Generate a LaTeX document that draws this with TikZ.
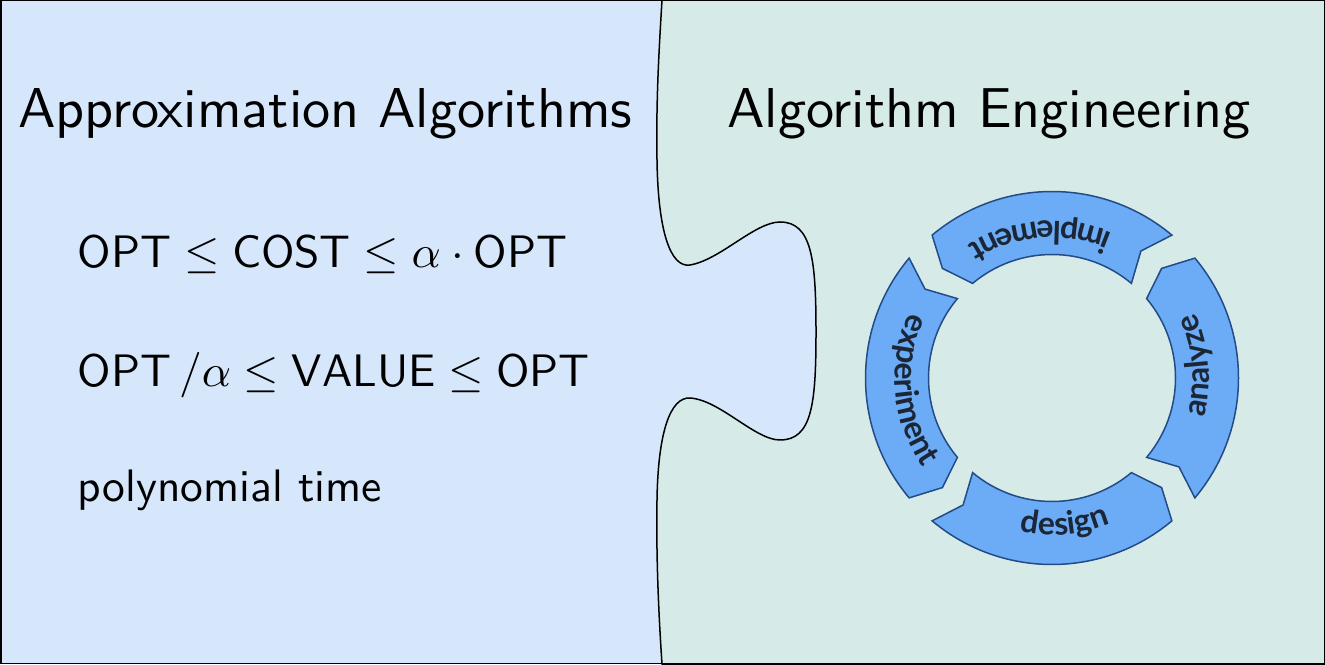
\documentclass[tikz,border=0pt]{standalone}
\usepackage{fontspec}
\newfontfamily\latofont{Lato}
\usetikzlibrary{calc,decorations.text}
\definecolor{leftbg}{RGB}{214,230,251}
\definecolor{rightbg}{RGB}{214,235,232}
\definecolor{arrfill}{RGB}{108,171,246}
\definecolor{arrdraw}{RGB}{35,75,133}
\definecolor{arrtext}{RGB}{27,38,54}
\tikzset{
  border/.style={draw=black, line width=1.5pt},
  arrowseg/.style={fill=arrfill, draw=arrdraw, line width=1.5pt, line join=miter},
  title/.style={anchor=base west, inner sep=0pt, scale=5.62, font=\sffamily},
  formula/.style={anchor=base west, inner sep=0pt, scale=4.55, font=\sffamily},
  cyctext/.style={decorate, decoration={text along path, text align=center, text={#1}}}
}
\newcommand{\cyc}[1]{|\latofont\bfseries\fontsize{32}{32}\selectfont\color{arrtext}|#1}
\begin{document}
\begin{tikzpicture}[x=1pt,y=1pt]
\useasboundingbox (0,0) rectangle (1325,664);
% backgrounds
\fill[leftbg] (0,0) rectangle (1325,664);
\path[fill=rightbg, border] (662,664)
  .. controls (659,614) and (656,564) .. (657,504)
  .. controls (658,434) and (670,396) .. (690,399)
  .. controls (720,404) and (755,442) .. (780,442)
  .. controls (812,442) and (816,404) .. (816,332)
  .. controls (816,260) and (812,224) .. (780,224)
  .. controls (755,224) and (720,264) .. (690,266)
  .. controls (670,267) and (658,231) .. (657,164)
  .. controls (656,104) and (659,44) .. (662,0)
  -- (1325,0) -- (1325,664) -- cycle;
\draw[border] (0.75,0.75) rectangle (1324.25,663.25);
% texts
\node[title] (t1) at (17,536) {Approximation Algorithms};
\node[title] (t2) at (726,536) {Algorithm Engineering};
\node[formula] (f1) at (77,396) {$\mathsf{OPT}\leq\mathsf{COST}\leq\alpha\cdot\mathsf{OPT}$};
\node[formula] (f2) at (77,277) {$\mathsf{OPT}\,/\alpha\leq\mathsf{VALUE}\leq\mathsf{OPT}$};
\node[formula] (f3) at (77,162) {polynomial time};
% cycle
\coordinate (C) at (1052,286);
\foreach \a in {-130,-40,50,140}{
  \pgfmathsetmacro\b{\a+80}
  \draw[arrowseg] ($(C)+(\a:186.5)$) arc[start angle=\a, end angle=\b, radius=186.5]
    -- ($(C)+(\b+5:155)$) -- ($(C)+(\b:123.5)$)
    arc[start angle=\b, end angle=\a, radius=123.5]
    -- ($(C)+(\a+5:155)$) -- cycle;
}
\path[cyctext={\cyc{design}}] ($(C)+(-125:157)$) arc[start angle=-125, end angle=-45, radius=157];
\path[cyctext={\cyc{analyze}}] ($(C)+(-35:157)$) arc[start angle=-35, end angle=45, radius=157];
\path[cyctext={\cyc{implement}}] ($(C)+(55:157)$) arc[start angle=55, end angle=135, radius=157];
\path[cyctext={\cyc{experiment}}] ($(C)+(145:157)$) arc[start angle=145, end angle=225, radius=157];
\end{tikzpicture}
\end{document}
